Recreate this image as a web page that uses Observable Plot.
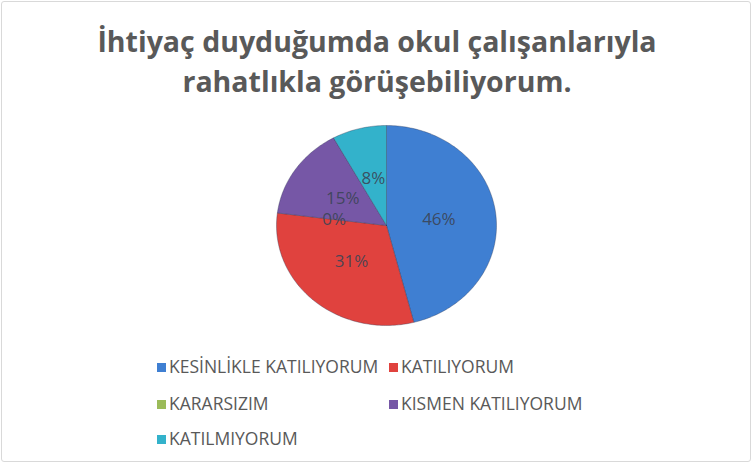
<!DOCTYPE html>
<html><head><meta charset="utf-8">
<script src="https://cdn.jsdelivr.net/npm/d3@7"></script>
<script src="https://cdn.jsdelivr.net/npm/@observablehq/plot@0.6"></script>
<style>
html,body{margin:0;padding:0;background:#fff;}
#frame{position:absolute;left:1px;top:1px;width:750px;height:461px;border:1px solid #d9d9d9;border-radius:3px;box-sizing:border-box;overflow:hidden;}
#title{position:absolute;left:0;top:21px;width:754px;text-align:center;font-family:"Open Sans",sans-serif;font-weight:700;font-size:28.5px;line-height:40px;color:#595959;}
#chart{position:absolute;left:0;top:112px;}
#legend{position:absolute;left:0;top:0;font-family:"Open Sans",sans-serif;font-size:17.5px;color:#595959;}
.li{position:absolute;white-space:nowrap;line-height:20px;}
.sw{display:inline-block;width:9px;height:9px;margin-right:3px;vertical-align:1px;}
</style></head>
<body>
<div id="frame"></div>
<div id="title">İhtiyaç duyduğumda okul çalışanlarıyla<br>rahatlıkla görüşebiliyorum.</div>
<div id="chart"></div>
<div id="legend"></div>
<script>
const categories = ["KESİNLİKLE KATILIYORUM","KATILIYORUM","KARARSIZIM","KISMEN KATILIYORUM","KATILMIYORUM"];
const values = [46, 31, 0, 15, 8];
const labels = ["46%","31%","0%","15%","8%"];
const colors = ["#3f7fd2","#e0423e","#9bbb59","#7657a6","#33b2cb"];

const total = d3.sum(values);
const slices = [];
const pts = [];
let acc = 0;
values.forEach((v, i) => {
  const a0 = acc / total * 2 * Math.PI;
  acc += v;
  const a1 = acc / total * 2 * Math.PI;
  slices.push({cat: categories[i], label: labels[i], mid: (a0 + a1) / 2});
  if (v > 0) {
    pts.push({cat: categories[i], x: 0, y: 0});
    const n = Math.max(2, Math.ceil((a1 - a0) / 0.02));
    for (let k = 0; k <= n; k++) {
      const a = a0 + (a1 - a0) * k / n;
      pts.push({cat: categories[i], x: Math.sin(a), y: Math.cos(a)});
    }
    pts.push({cat: categories[i], x: 0, y: 0});
  }
});

const plot = Plot.plot({
  width: 754, height: 230,
  margin: 0,
  x: {domain: [-1, 1], range: [276, 496], axis: null},
  y: {domain: [-1, 1], range: [213, 13], axis: null},
  color: {domain: categories, range: colors},
  marks: [
    Plot.line(pts, {x: "x", y: "y", z: "cat", fill: "cat", stroke: "#2a3550", strokeOpacity: 0.35, strokeWidth: 1, curve: "linear"}),
    Plot.text(slices, {x: d => 0.48 * Math.sin(d.mid), y: d => 0.48 * Math.cos(d.mid), text: "label", fill: "#3b4455", fillOpacity: 0.9, fontSize: 17, fontFamily: "Open Sans"})
  ]
});
document.getElementById("chart").appendChild(plot);

const legPos = [[157,356],[389,356],[157,393],[389,393],[157,428]];
const leg = document.getElementById("legend");
categories.forEach((c, i) => {
  const d = document.createElement("div");
  d.className = "li";
  d.style.left = legPos[i][0] + "px";
  d.style.top = legPos[i][1] + "px";
  d.innerHTML = `<span class="sw" style="background:${colors[i]}"></span>${c}`;
  leg.appendChild(d);
});
</script>
</body></html>
